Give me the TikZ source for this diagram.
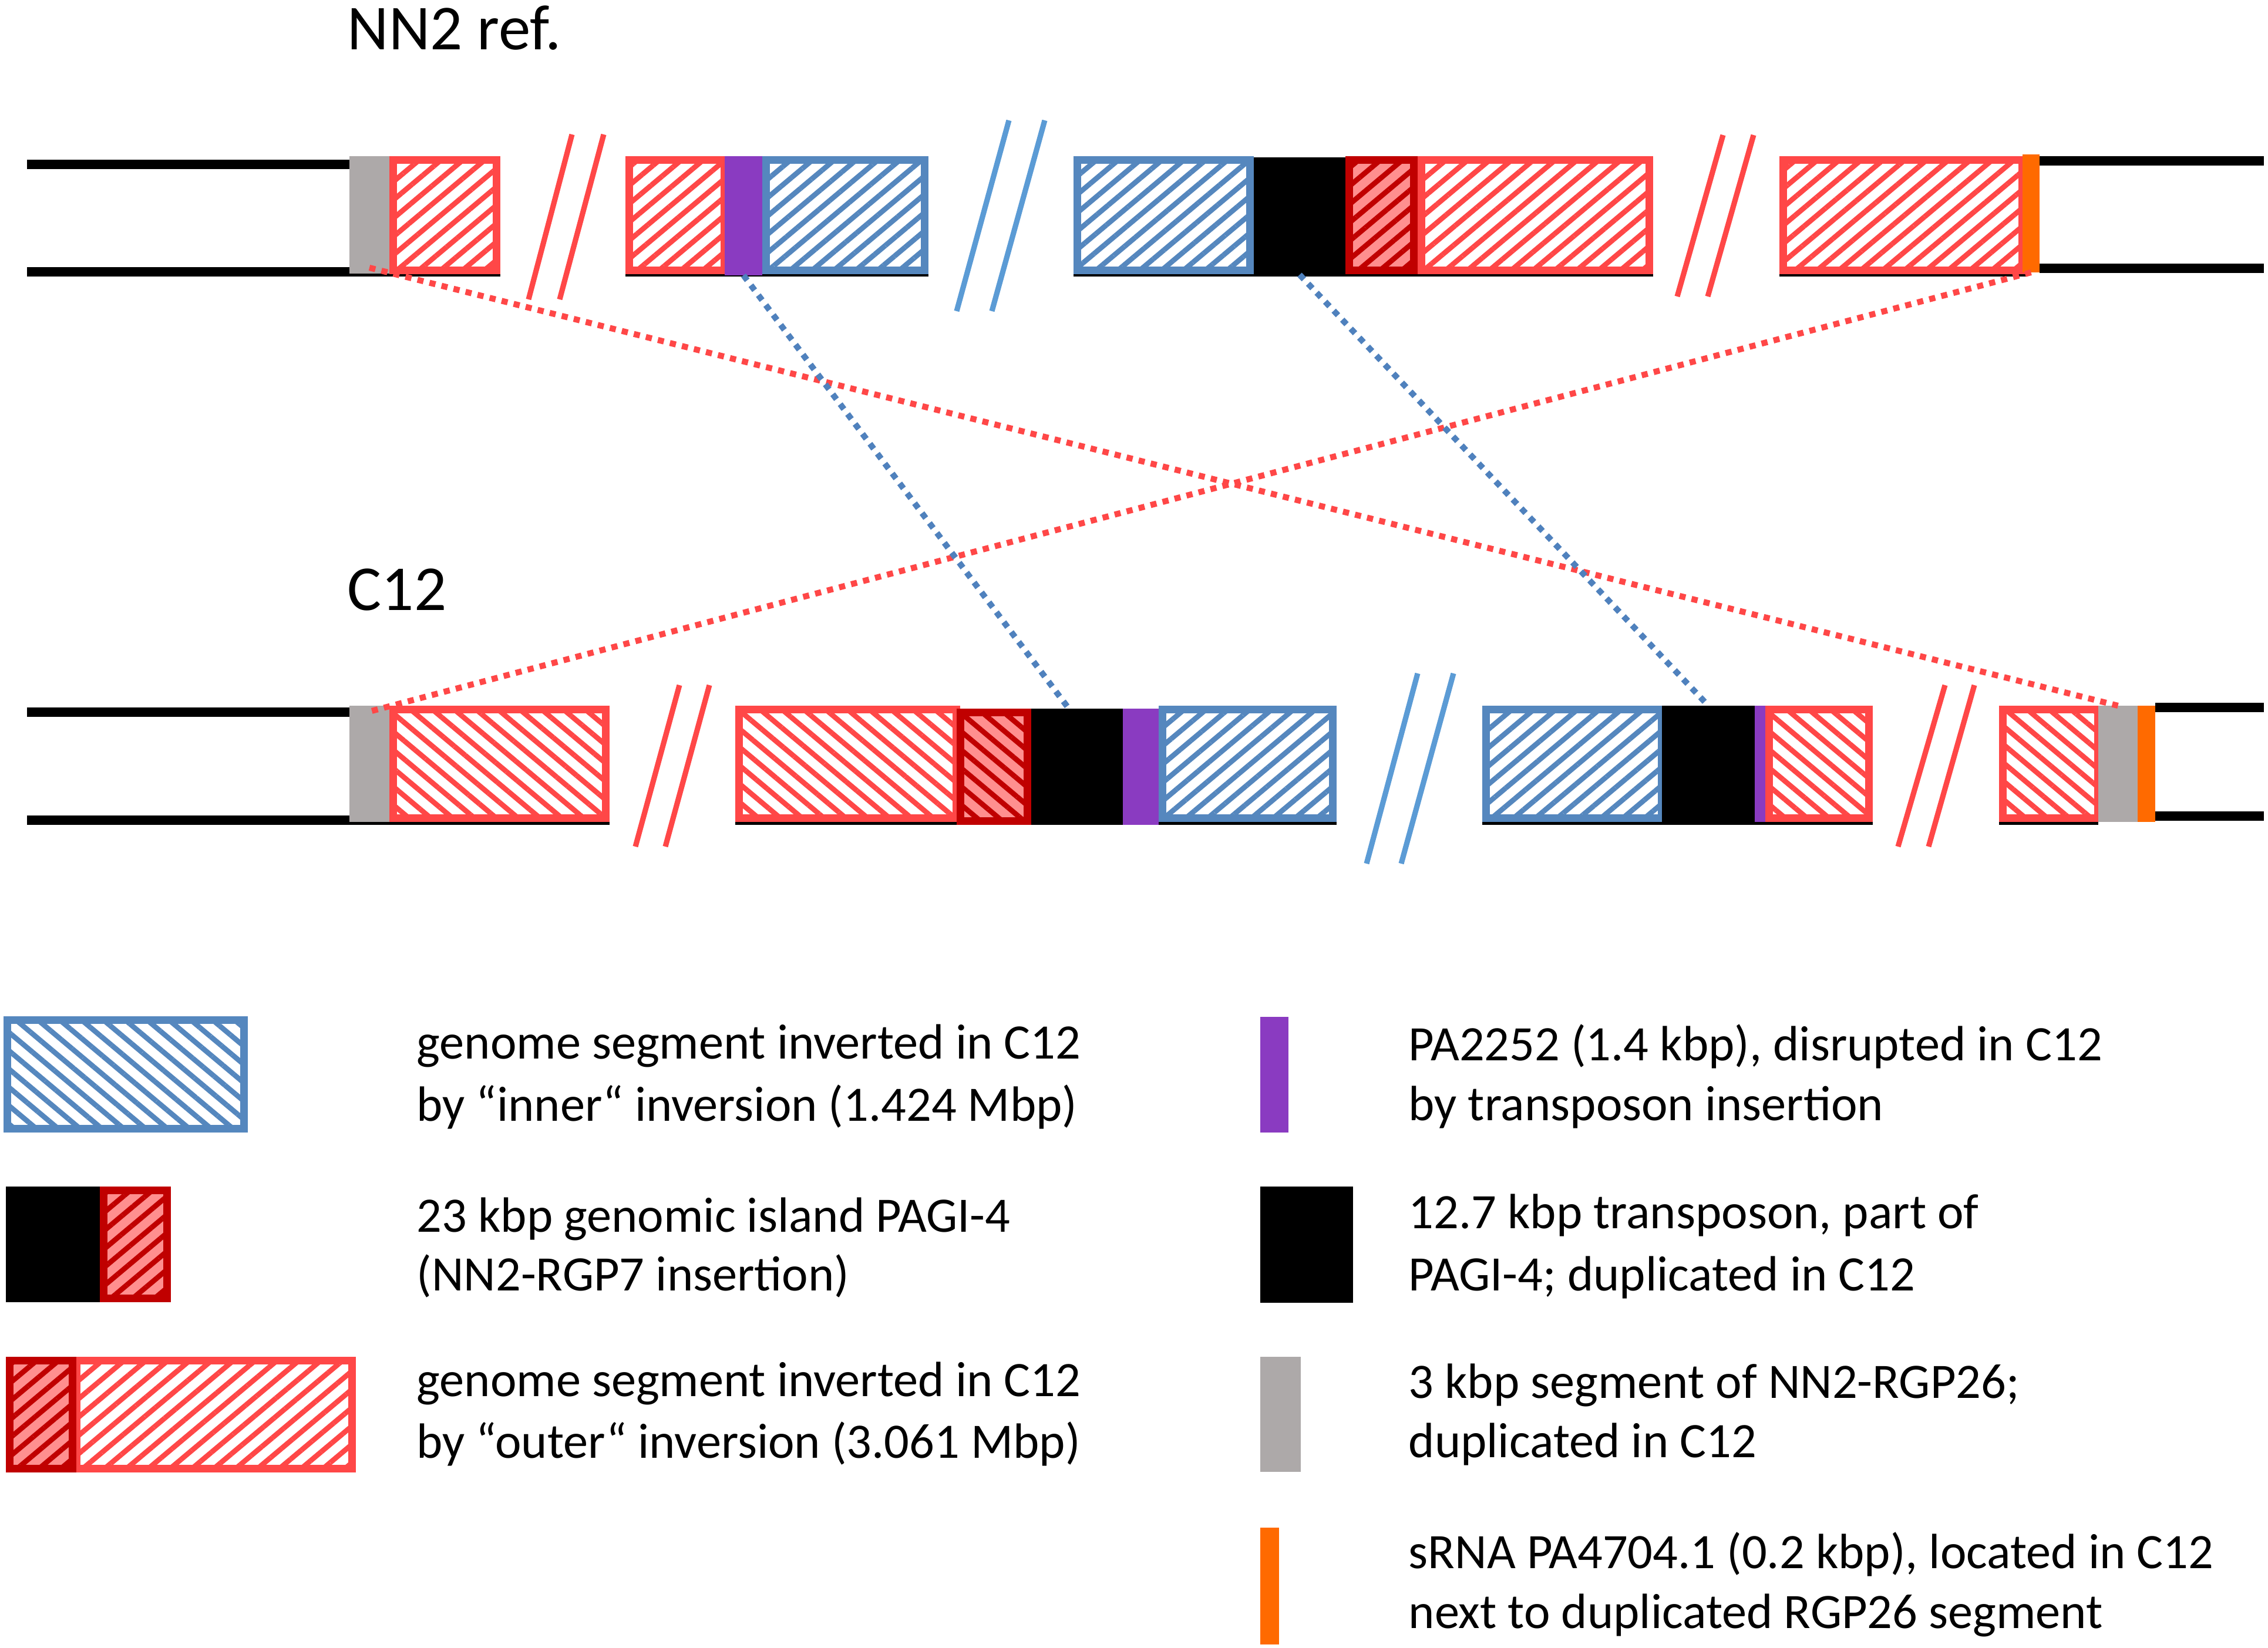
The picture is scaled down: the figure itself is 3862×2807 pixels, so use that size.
\documentclass[tikz,border=0pt]{standalone}
\usepackage{fontspec}
\setmainfont{Carlito}
\usetikzlibrary{patterns.meta}
\definecolor{redc}{RGB}{255,71,71}
\definecolor{darkredc}{RGB}{192,0,0}
\definecolor{pinkc}{RGB}{255,143,143}
\definecolor{bluec}{RGB}{85,135,190}
\definecolor{brkblue}{RGB}{91,155,213}
\definecolor{dotblue}{RGB}{79,129,189}
\definecolor{purplec}{RGB}{138,59,193}
\definecolor{orangec}{RGB}{255,106,0}
\definecolor{grayc}{RGB}{173,169,169}
\tikzset{
  hatchRup/.style={draw=redc, line width=3.7pt, pattern={Lines[angle=40,distance=6.8pt,line width=2.5pt]}, pattern color=redc},
  hatchRdn/.style={draw=redc, line width=3.7pt, pattern={Lines[angle=-40,distance=6.8pt,line width=2.5pt]}, pattern color=redc},
  hatchBup/.style={draw=bluec, line width=3.7pt, pattern={Lines[angle=40,distance=6.8pt,line width=2.5pt]}, pattern color=bluec},
  hatchBdn/.style={draw=bluec, line width=3.7pt, pattern={Lines[angle=-40,distance=6.8pt,line width=2.5pt]}, pattern color=bluec},
  hatchDup/.style={draw=darkredc, line width=3.7pt, preaction={fill=pinkc}, pattern={Lines[angle=40,distance=6.8pt,line width=2.5pt]}, pattern color=darkredc},
  hatchDdn/.style={draw=darkredc, line width=3.7pt, preaction={fill=pinkc}, pattern={Lines[angle=-40,distance=6.8pt,line width=2.5pt]}, pattern color=darkredc},
  solidK/.style={fill=black},
  solidG/.style={fill=grayc},
  solidP/.style={fill=purplec},
  solidO/.style={fill=orangec},
  chrom/.style={line width=4.3pt, black},
  brkR/.style={line width=2.6pt, redc},
  brkB/.style={line width=2.6pt, brkblue},
  dotR/.style={line width=2.9pt, redc, dash pattern=on 3pt off 3pt},
  dotB/.style={line width=2.9pt, dotblue, dash pattern=on 3pt off 3pt},
  title/.style={font=\fontsize{31}{37}\selectfont, anchor=base west, inner sep=0pt},
  lbl/.style={font=\fontsize{24}{29}\selectfont, anchor=base west, inner sep=0pt},
}
\newcommand\hseg[6]{\node[#2, anchor=north west, inner sep=0pt, outer sep=0pt, minimum width={(#5-#3-13)*0.01cm}, minimum height={(#6-#4-13)*0.01cm}] (#1) at ({#3+6.5},{#4+6.5}) {};}
\newcommand\sseg[6]{\node[#2, anchor=north west, inner sep=0pt, outer sep=0pt, minimum width={(#5-#3)*0.01cm}, minimum height={(#6-#4)*0.01cm}] (#1) at (#3,#4) {};}
\begin{document}
\begin{tikzpicture}[x=0.01cm,y=-0.01cm]
\useasboundingbox (0,0) rectangle (3862,2807);
% ---------- titles
\node[title] (tNN) at (591,85) {NN2 ref.};
\node[title] (tC) at (591,1040) {C12};
% ---------- top row (NN2)
\draw[chrom] (46,280) -- (595,280);
\draw[chrom] (46,463) -- (852,463);
\draw[chrom] (1065,463) -- (1581,463);
\draw[chrom] (1828,463) -- (2815,463);
\draw[chrom] (3030,463) -- (3450,463);
\draw[chrom] (3473,274) -- (3855,274);
\draw[chrom] (3473,457) -- (3855,457);
\sseg{tgray}{solidG}{595}{266}{663}{466}
\hseg{tr1}{hatchRup}{663}{266}{852}{467}
\draw[brkR] (974,229) -- (900,510);
\draw[brkR] (1028,229) -- (953,510);
\hseg{tr2}{hatchRup}{1065}{266}{1240}{467}
\sseg{tpur}{solidP}{1234}{266}{1298}{469}
\hseg{tb1}{hatchBup}{1298}{266}{1581}{467}
\draw[brkB] (1718,205) -- (1629,530);
\draw[brkB] (1779,205) -- (1689,530);
\hseg{tb2}{hatchBup}{1828}{266}{2135}{467}
\sseg{tblk}{solidK}{2135}{268}{2291}{468}
\hseg{td}{hatchDup}{2291}{266}{2414}{467}
\hseg{tr3}{hatchRup}{2414}{266}{2815}{467}
\draw[brkR] (2934,230) -- (2856,505);
\draw[brkR] (2986,230) -- (2908,505);
\hseg{tr4}{hatchRup}{3030}{266}{3450}{467}
\sseg{tor}{solidO}{3444}{263}{3473}{464}
% ---------- bottom row (C12)
\draw[chrom] (46,1213) -- (595,1213);
\draw[chrom] (46,1397) -- (1038,1397);
\draw[chrom] (1252,1397) -- (2276,1397);
\draw[chrom] (2524,1397) -- (3189,1397);
\draw[chrom] (3404,1397) -- (3573,1397);
\draw[chrom] (3670,1205) -- (3855,1205);
\draw[chrom] (3670,1390) -- (3855,1390);
\sseg{bgray1}{solidG}{595}{1202}{663}{1400}
\hseg{br1}{hatchRdn}{663}{1202}{1038}{1400}
\draw[brkR] (1157,1167) -- (1082,1442);
\draw[brkR] (1208,1167) -- (1133,1442);
\hseg{br2}{hatchRdn}{1252}{1202}{1635}{1400}
\hseg{bd}{hatchDdn}{1629}{1207}{1756}{1405}
\sseg{bblk1}{solidK}{1756}{1207}{1912}{1405}
\sseg{bpur1}{solidP}{1912}{1207}{1973}{1405}
\hseg{bb1}{hatchBup}{1973}{1202}{2276}{1400}
\draw[brkB] (2414,1147) -- (2327,1471);
\draw[brkB] (2475,1147) -- (2386,1471);
\hseg{bb2}{hatchBup}{2524}{1202}{2836}{1400}
\sseg{bblk2}{solidK}{2830}{1202}{2988}{1400}
\sseg{bpur2}{solidP}{2988}{1202}{3006}{1400}
\hseg{br3}{hatchRdn}{3006}{1202}{3189}{1400}
\draw[brkR] (3312,1167) -- (3232,1442);
\draw[brkR] (3362,1167) -- (3284,1442);
\hseg{br4}{hatchRdn}{3404}{1202}{3579}{1400}
\sseg{bgray2}{solidG}{3573}{1202}{3640}{1400}
\sseg{bor}{solidO}{3640}{1202}{3670}{1400}
% ---------- connectors
\draw[dotR] ([yshift=0.1cm]tgray.south) -- (bgray2.north);
\draw[dotR] (tor.south) -- ([yshift=-0.1cm]bgray1.north);
\draw[dotB] (tpur.south) -- ([xshift=-0.14cm]bblk1.north);
\draw[dotB] (tblk.south) -- (bblk2.north);
% ---------- legend left
\hseg{lgB}{hatchBdn}{6}{1731}{422}{1929}
\sseg{lgK}{solidK}{10}{2021}{170}{2218}
\hseg{lgD}{hatchDup}{170}{2021}{291}{2218}
\hseg{lgR}{hatchRup}{124}{2311}{606}{2508}
\hseg{lgRD}{hatchDup}{10}{2311}{130}{2508}
\node[lbl] (l1a) at (709,1803) {genome segment inverted in C12};
\node[lbl] (l1b) at (709,1909) {by “inner“ inversion (1.424 Mbp)};
\node[lbl] (l2a) at (709,2098) {23 kbp genomic island PAGI-4};
\node[lbl] (l2b) at (709,2198) {(NN2-RGP7 insertion)};
\node[lbl] (l3a) at (709,2378) {genome segment inverted in C12};
\node[lbl] (l3b) at (709,2483) {by “outer“ inversion (3.061 Mbp)};
% ---------- legend right
\sseg{lgP}{solidP}{2146}{1732}{2194}{1929}
\sseg{lgK2}{solidK}{2146}{2021}{2304}{2219}
\sseg{lgG}{solidG}{2146}{2311}{2215}{2507}
\sseg{lgO}{solidO}{2146}{2602}{2178}{2801}
\node[lbl] (r1a) at (2398,1806) {PA2252 (1.4 kbp), disrupted in C12};
\node[lbl] (r1b) at (2398,1908) {by transposon insertion};
\node[lbl] (r2a) at (2398,2092) {12.7 kbp transposon, part of};
\node[lbl] (r2b) at (2398,2198) {PAGI-4; duplicated in C12};
\node[lbl] (r3a) at (2398,2381) {3 kbp segment of NN2-RGP26;};
\node[lbl] (r3b) at (2398,2482) {duplicated in C12};
\node[lbl] (r4a) at (2398,2671) {sRNA PA4704.1 (0.2 kbp), located in C12};
\node[lbl] (r4b) at (2398,2773) {next to duplicated RGP26 segment};
\end{tikzpicture}
\end{document}
